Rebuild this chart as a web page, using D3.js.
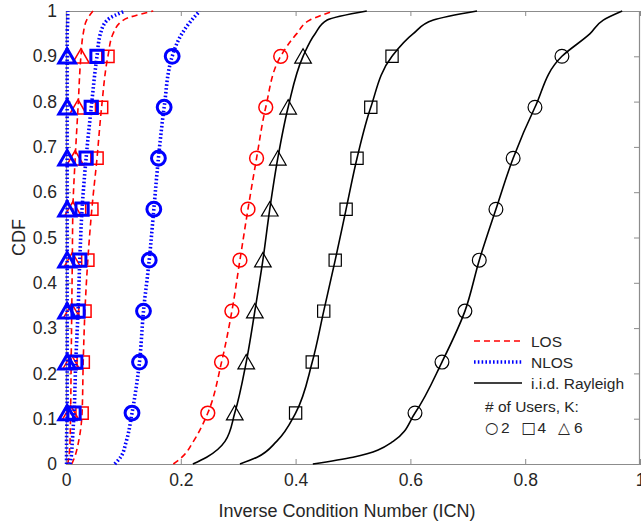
<!DOCTYPE html>
<html><head><meta charset="utf-8">
<script src="https://cdn.jsdelivr.net/npm/d3@7/dist/d3.min.js"></script>
<style>body{margin:0;background:#fff}svg{display:block}text{font-family:"Liberation Sans",Arial,sans-serif}</style>
</head><body><svg id="c" width="641" height="522"></svg>
<script>
const cdfLevels = [0, 0.015, 0.05, 0.1125, 0.225, 0.3375, 0.45, 0.5625, 0.675, 0.7875, 0.9, 0.95, 0.98, 1];
const markerIdx = [3,4,5,6,7,8,9,10];
// ICN values (x) for each curve at those levels
const los2  = [0.187, 0.202, 0.222, 0.247, 0.271, 0.289, 0.303, 0.317, 0.332, 0.348, 0.374, 0.402, 0.425, 0.466];
const los4  = [0.010, 0.015, 0.022, 0.028, 0.030, 0.033, 0.038, 0.045, 0.054, 0.062, 0.073, 0.082, 0.100, 0.152];
const los6  = [0.003, 0.005, 0.007, 0.008, 0.009, 0.010, 0.011, 0.012, 0.016, 0.021, 0.026, 0.030, 0.036, 0.047];
const nlos2 = [0.085, 0.095, 0.105, 0.115, 0.128, 0.135, 0.145, 0.153, 0.161, 0.171, 0.185, 0.202, 0.219, 0.233];
const nlos4 = [0.007, 0.009, 0.011, 0.014, 0.017, 0.021, 0.024, 0.028, 0.035, 0.044, 0.054, 0.060, 0.072, 0.103];
const nlos6 = [0.001, 0.001, 0.001, 0.002, 0.002, 0.002, 0.002, 0.002, 0.002, 0.002, 0.002, 0.002, 0.003, 0.003];
const ray2  = [0.430, 0.500, 0.570, 0.608, 0.655, 0.695, 0.720, 0.749, 0.779, 0.817, 0.864, 0.913, 0.936, 0.969];
const ray4  = [0.303, 0.333, 0.367, 0.400, 0.429, 0.449, 0.469, 0.488, 0.507, 0.531, 0.568, 0.605, 0.640, 0.716];
const ray6  = [0.221, 0.245, 0.277, 0.294, 0.314, 0.329, 0.343, 0.355, 0.369, 0.387, 0.413, 0.434, 0.455, 0.524];
const xTicks = [0, 0.2, 0.4, 0.6, 0.8, 1];
const yTicks = [0, 0.1, 0.2, 0.3, 0.4, 0.5, 0.6, 0.7, 0.8, 0.9, 1];
const legendNames = ["LOS", "NLOS", "i.i.d. Rayleigh"];

const styles = {
  LOS:  {color:"#ff0000", width:1.6, dash:"6,4", mw:1.5},
  NLOS: {color:"#0000ff", width:3.6, dash:"1.6,2.2", mw:3},
  RAY:  {color:"#000000", width:1.6, dash:null, mw:1.2}
};
const curves = [
  {v:ray2, s:"RAY", m:"circle"}, {v:ray4, s:"RAY", m:"square"}, {v:ray6, s:"RAY", m:"triangle"},
  {v:los2, s:"LOS", m:"circle"}, {v:los4, s:"LOS", m:"square"}, {v:los6, s:"LOS", m:"triangle"},
  {v:nlos2, s:"NLOS", m:"circle"}, {v:nlos4, s:"NLOS", m:"square"}, {v:nlos6, s:"NLOS", m:"triangle"}
];

const svg = d3.select("#c");
const L = 66, R = 640, T = 11, B = 464;
const x = d3.scaleLinear().domain([0,1]).range([L,R]);
const y = d3.scaleLinear().domain([0,1]).range([B,T]);
const axisCol = "#8c8c8c", txtCol = "#262626";

// axes
const gx = svg.append("g").attr("transform",`translate(0,${B})`)
  .call(d3.axisBottom(x).tickValues(xTicks).tickSize(-5).tickPadding(10).tickFormat(d3.format("")));
const gxt = svg.append("g").attr("transform",`translate(0,${T})`)
  .call(d3.axisTop(x).tickValues(xTicks).tickSize(-5).tickFormat(""));
const gy = svg.append("g").attr("transform",`translate(${L},0)`)
  .call(d3.axisLeft(y).tickValues(yTicks).tickSize(-5).tickPadding(9).tickFormat(d3.format("")));
const gyr = svg.append("g").attr("transform",`translate(${R-1},0)`)
  .call(d3.axisRight(y).tickValues(yTicks).tickSize(-5).tickFormat(""));
[gx,gxt,gy,gyr].forEach(g=>{
  g.selectAll("path.domain").attr("stroke",axisCol).attr("stroke-width",1.2);
  g.selectAll(".tick line").attr("stroke",axisCol).attr("stroke-width",1);
  g.selectAll(".tick text").attr("fill",txtCol).style("font-size","17.5px").style("font-family",'"Liberation Sans",Arial,sans-serif');
});

svg.append("text").attr("x",347).attr("y",517).attr("text-anchor","middle")
  .attr("fill",txtCol).style("font-size","18px").text("Inverse Condition Number (ICN)");
svg.append("text").attr("transform",`translate(25,${(T+B)/2}) rotate(-90)`).attr("text-anchor","middle")
  .attr("fill",txtCol).style("font-size","18px").text("CDF");

// curves
const line = d3.line().x(d=>x(d[0])).y(d=>y(d[1])).curve(d3.curveMonotoneY);
const sym = {circle:d3.symbolCircle, square:d3.symbolSquare, triangle:d3.symbolTriangle};
const symSize = {circle:150, square:150, triangle:120};
const draw = (c)=>{
  const st = styles[c.s];
  const pts = c.v.map((v,i)=>[v, cdfLevels[i]]);
  svg.append("path").datum(pts).attr("d",line).attr("fill","none")
    .attr("stroke",st.color).attr("stroke-width",st.width)
    .attr("stroke-dasharray",st.dash);
  svg.append("g").selectAll("path").data(markerIdx.map(i=>pts[i])).join("path")
    .attr("transform",d=>`translate(${x(d[0])},${y(d[1]) + (c.m==="triangle"?2:0)})`)
    .attr("d",d3.symbol().type(sym[c.m]).size(symSize[c.m]))
    .attr("fill","none").attr("stroke",st.color).attr("stroke-width",st.mw);
};
curves.forEach(draw);

// legend
const lg = svg.append("g");
const lkeys = ["LOS","NLOS","RAY"];
lkeys.forEach((k,i)=>{
  const st = styles[k];
  const yy = 341 + i*21;
  lg.append("line").attr("x1",474).attr("x2",522).attr("y1",yy).attr("y2",yy)
    .attr("stroke",st.color).attr("stroke-width",st.width).attr("stroke-dasharray",st.dash);
  lg.append("text").attr("x",531).attr("y",yy+5.5).attr("fill",txtCol).style("font-size","15.5px").text(legendNames[i]);
});
lg.append("text").attr("x",485).attr("y",412).attr("fill",txtCol).style("font-size","15.5px").text("# of Users, K:");
const kLabels = [["○","2"],["□","4"],["△","6"]];
kLabels.forEach((p,i)=>{
  lg.append("text").attr("x",485+i*36.5).attr("y",433).attr("fill",txtCol).style("font-size","15.5px")
    .style("font-family",'"DejaVu Sans",sans-serif').text(p[0]);
  lg.append("text").attr("x",501+i*36.5).attr("y",433).attr("fill",txtCol).style("font-size","15.5px").text(p[1]);
});
</script></body></html>
